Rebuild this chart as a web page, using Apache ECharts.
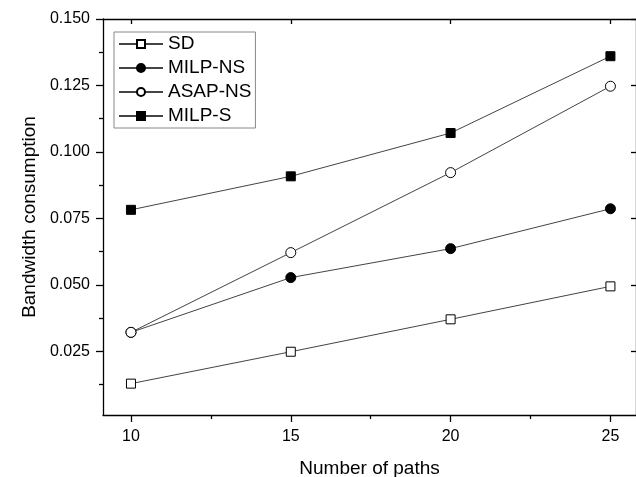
<!DOCTYPE html>
<html>
<head>
<meta charset="utf-8">
<script src="https://cdn.jsdelivr.net/npm/echarts@6/dist/echarts.min.js"></script>
<style>
	html, body { margin: 0; padding: 0; background: #fff; }
	#chart { width: 636px; height: 477px; }
</style>
</head>
<body>
<div id="chart"></div>
<script>
	// number of paths (x)
	var paths = [10, 15, 20, 25];

	// bandwidth consumption per method
	var sdValues = [0.0128, 0.0248, 0.0370, 0.0494];
	var milpNsValues = [0.0321, 0.0527, 0.0636, 0.0786];
	var asapNsValues = [0.0321, 0.0621, 0.0922, 0.1247];
	var milpSValues = [0.0782, 0.0908, 0.1071, 0.1360];

	// tick values
	var xMajor = [10, 15, 20, 25];
	var xMinor = [12.5, 17.5, 22.5];
	var yMajor = [0.025, 0.050, 0.075, 0.100, 0.125, 0.150];
	var yMinor = [0.0125, 0.0375, 0.0625, 0.0875, 0.1125, 0.1375];

	var FONT = 'Liberation Sans';
	var X_MIN = 9.125, X_MAX = 25.8;
	var Y_MIN = 0.001, Y_MAX = 0.150;

	function pairs(values){
		var out = [];
		for(var i = 0; i < paths.length; i++)
			out.push([paths[i], values[i]]);
		return out;
	}

	function makeSeries(name, values, symbol, size, fill){
		return {
			name: name,
			type: 'line',
			xAxisIndex: 0,
			yAxisIndex: 0,
			data: pairs(values),
			symbol: symbol,
			symbolSize: size,
			showAllSymbol: true,
			animation: false,
			lineStyle: { color: '#444', width: 1 },
			itemStyle: { color: fill, borderColor: '#000', borderWidth: 1, opacity: 1 }
		};
	}

	var axisLine = { show: true, onZero: false, lineStyle: { color: '#000', width: 1.3 } };
	var noLine = { show: false };

	var option = {
		animation: false,
		backgroundColor: '#fff',
		grid: {
			left: 103,
			top: 19,
			right: 0,
			bottom: 62,
			outerBoundsMode: 'none',
			containLabel: false
		},
		legend: {
			orient: 'vertical',
			left: 114,
			top: 32,
			padding: [2, 4, 2, 4],
			itemGap: 4,
			itemWidth: 44,
			itemHeight: 10,
			borderColor: '#888',
			borderWidth: 1,
			textStyle: { fontFamily: FONT, fontSize: 19, color: '#000', lineHeight: 20 },
			data: ['SD', 'MILP-NS', 'ASAP-NS', 'MILP-S']
		},
		xAxis: [
			{
				type: 'value', position: 'bottom', min: X_MIN, max: X_MAX,
				axisLine: axisLine,
				splitLine: { show: false },
				axisTick: { show: true, customValues: xMajor, length: 7, lineStyle: { color: '#000', width: 1.3 } },
				axisLabel: { customValues: xMajor, margin: 14, fontFamily: FONT, fontSize: 16, color: '#000' },
				name: 'Number of paths',
				nameLocation: 'middle',
				nameGap: 44,
				nameTextStyle: { fontFamily: FONT, fontSize: 19, color: '#000' }
			},
			{
				type: 'value', position: 'bottom', min: X_MIN, max: X_MAX,
				axisLine: noLine,
				splitLine: { show: false },
				axisTick: { show: true, customValues: xMinor, length: 4, lineStyle: { color: '#000', width: 1.3 } },
				axisLabel: { show: false }
			},
			{
				type: 'value', position: 'top', min: X_MIN, max: X_MAX,
				axisLine: axisLine,
				splitLine: { show: false },
				axisTick: { show: true, inside: true, customValues: xMajor, length: 5, lineStyle: { color: '#000', width: 1.3 } },
				axisLabel: { show: false }
			}
		],
		yAxis: [
			{
				type: 'value', position: 'left', min: Y_MIN, max: Y_MAX,
				axisLine: axisLine,
				splitLine: { show: false },
				axisTick: { show: true, customValues: yMajor, length: 7, lineStyle: { color: '#000', width: 1.3 } },
				axisLabel: {
					customValues: yMajor, margin: 13, fontFamily: FONT, fontSize: 16, color: '#000',
					formatter: function(v){ return v.toFixed(3); }
				},
				name: 'Bandwidth consumption',
				nameLocation: 'middle',
				nameGap: 63,
				nameTextStyle: { fontFamily: FONT, fontSize: 19, color: '#000' }
			},
			{
				type: 'value', position: 'left', min: Y_MIN, max: Y_MAX,
				axisLine: noLine,
				splitLine: { show: false },
				axisTick: { show: true, customValues: yMinor, length: 4, lineStyle: { color: '#000', width: 1.3 } },
				axisLabel: { show: false }
			},
			{
				type: 'value', position: 'right', min: Y_MIN, max: Y_MAX,
				axisLine: axisLine,
				splitLine: { show: false },
				axisTick: { show: true, inside: true, customValues: yMajor, length: 5, lineStyle: { color: '#000', width: 1.3 } },
				axisLabel: { show: false }
			}
		],
		series: [
			makeSeries('SD', sdValues, 'rect', 9, '#fff'),
			makeSeries('MILP-NS', milpNsValues, 'circle', 10, '#000'),
			makeSeries('ASAP-NS', asapNsValues, 'circle', 10, '#fff'),
			makeSeries('MILP-S', milpSValues, 'rect', 9, '#000')
		]
	};

	var chart = echarts.init(document.getElementById('chart'), null, { renderer: 'canvas' });
	chart.setOption(option);
</script>
</body>
</html>
